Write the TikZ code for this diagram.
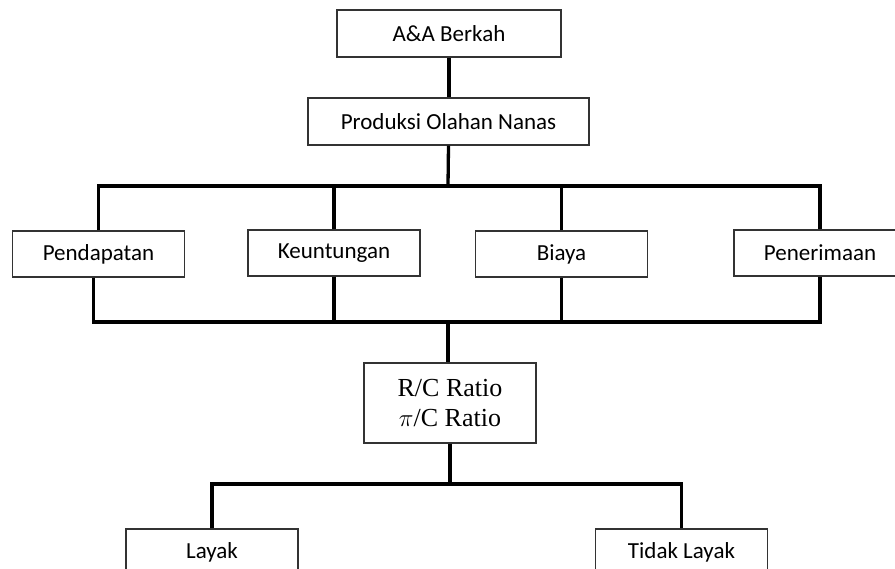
\documentclass[tikz,border=0pt]{standalone}
\usepackage{fontspec}
\setmainfont{Carlito}
\newfontfamily\timesf{Liberation Serif}
\usepackage{tikz}
\usetikzlibrary{positioning,calc}

\begin{document}
\begin{tikzpicture}[x=1pt,y=-1pt,
                    box/.style={draw=black!80,line width=1.1pt,minimum width=172pt,
                                minimum height=46pt,inner sep=0pt,
                                font=\fontsize{23}{27}\selectfont},
                    link/.style={line width=3.3pt,black}]

  \clip (0,0) rectangle (895,569);

  \node[box,minimum width=224pt,minimum height=47pt] (akb)   at (449,33.5) {A\&A Berkah};
  \node[box,minimum width=281pt,minimum height=47pt] (prod)  at (448.5,121.5) {Produksi Olahan Nanas};

  \node[box] (pend)  at (98.5,254)  {Pendapatan};
  \node[box] (keun)  at (334,253)   {Keuntungan};
  \node[box] (biaya) at (561.5,254) {Biaya};
  \node[box] (pener) at (820,253)   {Penerimaan};

  \node[box,minimum height=80pt,align=center,
        font=\timesf\fontsize{26}{30}\selectfont] (rc) at (450,403)
        {R/C Ratio\\$\pi$/C Ratio};

  \node[box] (layak) at (212,552)   {Layak};
  \node[box] (tidak) at (681.5,552) {Tidak Layak};

  \coordinate (busA) at (448,186);
  \coordinate (busB) at (448,322);
  \coordinate (busC) at (447,484);

  % upper tree
  \draw[link] (akb.south) -- (akb.south |- prod.north);
  \draw[link] (prod.south) -- (busA);
  \draw[link] (pend.north) |- (busA) -| (pener.north);
  \draw[link] (keun.north) -- (keun.north |- busA);
  \draw[link] (biaya.north) -- (biaya.north |- busA);

  % collecting bus
  \draw[link] ([xshift=-5pt]pend.south) |- (busB) -| (pener.south);
  \draw[link] (keun.south) -- (keun.south |- busB);
  \draw[link] (biaya.south) -- (biaya.south |- busB);
  \draw[link] (busB) -- (busB |- rc.north);

  % decision
  \draw[link] (rc.south) -- (rc.south |- busC);
  \draw[link] (layak.north) |- (busC) -| (tidak.north);
\end{tikzpicture}
\end{document}
